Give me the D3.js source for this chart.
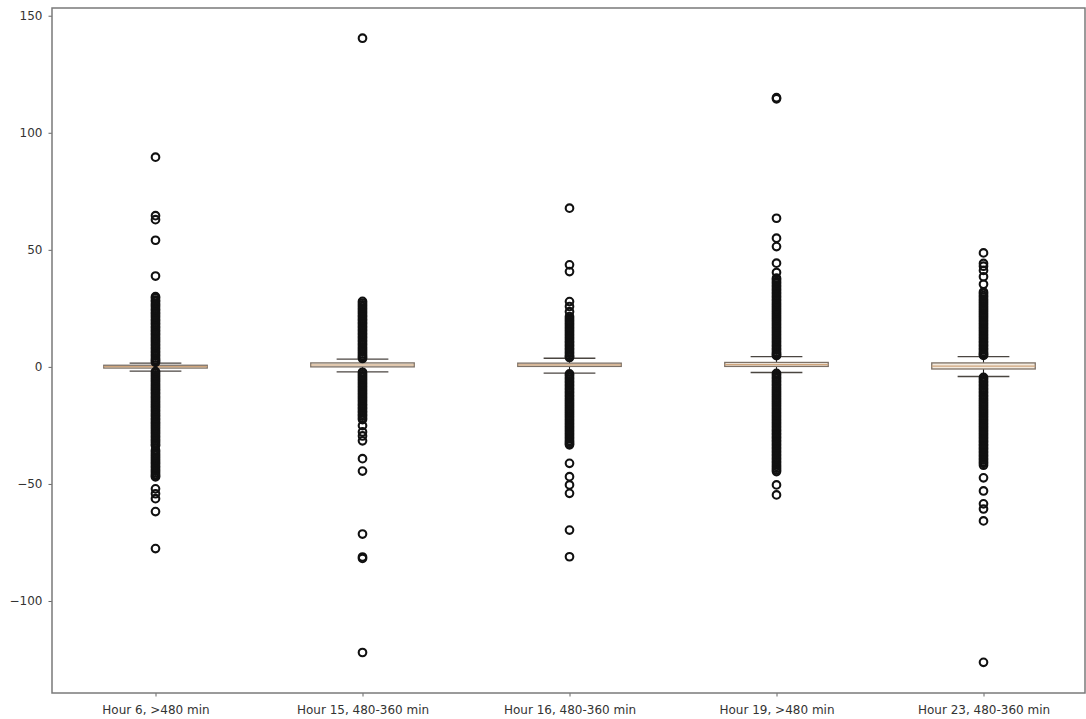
<!DOCTYPE html>
<html>
<head>
<meta charset="utf-8">
<script src="https://cdn.jsdelivr.net/npm/d3@7"></script>
<style>
  html, body { margin: 0; padding: 0; background: #fff; }
  svg { display: block; }
</style>
</head>
<body>
<svg id="chart" width="1086" height="719"></svg>
<script>
// ---- data ----
const categories = ["Hour 6, >480 min", "Hour 15, 480-360 min", "Hour 16, 480-360 min", "Hour 19, >480 min", "Hour 23, 480-360 min"];
const q1Values      = [-0.5, 0.0, 0.2, 0.2, -0.9];
const medianValues  = [0.1, 0.8, 0.9, 1.0, 0.3];
const q3Values      = [0.7, 1.7, 1.6, 1.9, 1.7];
const whiskerLow    = [-1.8, -2.1, -2.7, -2.4, -4.1];
const whiskerHigh   = [1.6, 3.3, 3.7, 4.4, 4.4];
const yTicks = [-100, -50, 0, 50, 100, 150];

const fliersHour6 = [89.6, 64.6, 62.9, 54.1, 38.8,
  30.0, 29.4, 28.5, 27.9, 27.0, 26.3, 25.6, 24.7, 24.1, 23.2, 22.6, 21.8, 21.1, 20.2, 19.6, 18.8, 18.1, 17.2, 16.6, 15.8, 15.1, 14.3, 13.6, 12.8, 12.0, 11.3, 10.6, 9.8, 9.1, 8.3, 7.6, 6.8, 6.1, 5.3, 4.6, 3.8, 3.1, 2.5, 1.9,
  -2.0, -2.7, -3.5, -4.2, -5.0, -5.7, -6.4, -7.2, -7.9, -8.7, -9.4, -10.1, -10.9, -11.6, -12.4, -13.1, -13.8, -14.6, -15.3, -16.1, -16.8, -17.5, -18.3, -19.0, -19.8, -20.5, -21.2, -22.0, -22.7, -23.5, -24.2, -24.9, -25.7, -26.4, -27.2, -27.9, -28.6, -29.4, -30.1, -30.9, -31.6, -32.3, -33.1, -33.7, -35.6, -36.3, -37.1, -37.8, -38.6, -39.3, -40.1, -40.8, -41.5, -42.3, -43.0, -43.8, -44.5, -45.2, -46.0, -46.6, -47.0,
  -52.1, -54.2, -56.3, -61.8, -77.6];

const fliersHour15 = [140.4,
  28.0, 27.3, 26.5, 25.8, 25.0, 24.3, 23.5, 22.8, 22.0, 21.3, 20.5, 19.8, 19.0, 18.3, 17.5, 16.8, 16.0, 15.3, 14.5, 13.8, 13.0, 12.3, 11.5, 10.8, 10.0, 9.3, 8.5, 7.8, 7.0, 6.3, 5.5, 4.8, 4.1, 3.6,
  -2.3, -3.0, -3.8, -4.5, -5.3, -6.0, -6.8, -7.5, -8.3, -9.0, -9.8, -10.5, -11.3, -12.0, -12.8, -13.5, -14.3, -15.0, -15.8, -16.5, -17.3, -18.0, -18.8, -19.5, -20.3, -21.0, -21.8, -22.5,
  -25.1, -27.8, -29.5, -31.6, -39.2, -44.5, -71.4, -81.2, -81.8, -122.0];

const fliersHour16 = [67.8, 43.6, 40.7, 27.9, 25.8, 23.6,
  21.5, 20.8, 20.0, 19.3, 18.5, 17.8, 17.0, 16.3, 15.5, 14.8, 14.0, 13.3, 12.5, 11.8, 11.0, 10.3, 9.5, 8.8, 8.0, 7.3, 6.5, 5.8, 5.0, 4.4, 4.0,
  -3.0, -3.7, -4.5, -5.2, -6.0, -6.7, -7.5, -8.2, -9.0, -9.7, -10.5, -11.2, -12.0, -12.7, -13.5, -14.2, -15.0, -15.7, -16.5, -17.2, -18.0, -18.7, -19.5, -20.2, -21.0, -21.7, -22.5, -23.2, -24.0, -24.7, -25.5, -26.2, -27.0, -27.7, -28.5, -29.2, -30.0, -30.7, -31.5, -32.2, -32.8, -33.3,
  -41.2, -46.9, -50.4, -54.0, -69.7, -81.1];

const fliersHour19 = [115.0, 114.5, 63.5, 55.0, 51.4, 44.3, 40.3,
  37.9, 37.2, 36.4, 35.7, 34.9, 34.2, 33.4, 32.7, 31.9, 31.2, 30.4, 29.7, 28.9, 28.2, 27.4, 26.7, 25.9, 25.2, 24.4, 23.7, 22.9, 22.2, 21.4, 20.7, 19.9, 19.2, 18.4, 17.7, 16.9, 16.2, 15.4, 14.7, 13.9, 13.2, 12.4, 11.7, 10.9, 10.2, 9.4, 8.7, 7.9, 7.2, 6.4, 5.7, 5.2, 4.8,
  -2.8, -3.5, -4.3, -5.0, -5.8, -6.5, -7.3, -8.0, -8.8, -9.5, -10.3, -11.0, -11.8, -12.5, -13.3, -14.0, -14.8, -15.5, -16.3, -17.0, -17.8, -18.5, -19.3, -20.0, -20.8, -21.5, -22.3, -23.0, -23.8, -24.5, -25.3, -26.0, -26.8, -27.5, -28.3, -29.0, -29.8, -30.5, -31.3, -32.0, -32.8, -33.5, -34.3, -35.0, -35.8, -36.5, -37.3, -38.0, -38.8, -39.5, -40.3, -41.0, -41.8, -42.5, -43.3, -44.0, -44.7,
  -50.4, -54.7];

const fliersHour23 = [48.7, 44.2, 43.0, 41.2, 38.5, 35.3,
  32.0, 31.3, 30.5, 29.8, 29.0, 28.3, 27.5, 26.8, 26.0, 25.3, 24.5, 23.8, 23.0, 22.3, 21.5, 20.8, 20.0, 19.3, 18.5, 17.8, 17.0, 16.3, 15.5, 14.8, 14.0, 13.3, 12.5, 11.8, 11.0, 10.3, 9.5, 8.8, 8.0, 7.3, 6.5, 5.8, 5.3, 4.9,
  -4.5, -5.2, -6.0, -6.7, -7.5, -8.2, -9.0, -9.7, -10.5, -11.2, -12.0, -12.7, -13.5, -14.2, -15.0, -15.7, -16.5, -17.2, -18.0, -18.7, -19.5, -20.2, -21.0, -21.7, -22.5, -23.2, -24.0, -24.7, -25.5, -26.2, -27.0, -27.7, -28.5, -29.2, -30.0, -30.7, -31.5, -32.2, -33.0, -33.7, -34.5, -35.2, -36.0, -36.7, -37.5, -38.2, -39.0, -39.7, -40.5, -41.2, -42.0,
  -47.4, -53.0, -58.5, -60.7, -65.8, -126.2];

const flierSets = [fliersHour6, fliersHour15, fliersHour16, fliersHour19, fliersHour23];

// ---- layout ----
const plot = { left: 52, right: 1087, top: 8, bottom: 693 };
const svg = d3.select("#chart");

const x = d3.scaleLinear().domain([0.5, 5.5]).range([plot.left, plot.right]);
const y = d3.scaleLinear().domain([-139.3, 153.3]).range([plot.bottom, plot.top]);

const boxHalf = (x(1.25) - x(1));   // box width 0.5
const capHalf = boxHalf / 2;

const data = categories.map((c, i) => ({
  pos: i + 1, name: c,
  q1: q1Values[i], med: medianValues[i], q3: q3Values[i],
  lo: whiskerLow[i], hi: whiskerHigh[i], fliers: flierSets[i]
}));

const font = "DejaVu Sans, sans-serif";
const g = svg.append("g");

// whiskers
g.selectAll("line.whisk-lo").data(data).join("line")
  .attr("x1", d => x(d.pos)).attr("x2", d => x(d.pos))
  .attr("y1", d => y(d.q1)).attr("y2", d => y(d.lo))
  .attr("stroke", "#222").attr("stroke-width", 1.1);
g.selectAll("line.whisk-hi").data(data).join("line")
  .attr("x1", d => x(d.pos)).attr("x2", d => x(d.pos))
  .attr("y1", d => y(d.q3)).attr("y2", d => y(d.hi))
  .attr("stroke", "#222").attr("stroke-width", 1.1);
// caps
["lo", "hi"].forEach(k => {
  g.selectAll("line.cap-" + k).data(data).join("line")
    .attr("x1", d => x(d.pos) - capHalf).attr("x2", d => x(d.pos) + capHalf)
    .attr("y1", d => y(d[k])).attr("y2", d => y(d[k]))
    .attr("stroke", "#4a4540").attr("stroke-width", 1.3);
});
// boxes
g.selectAll("rect.box").data(data).join("rect")
  .attr("x", d => x(d.pos) - boxHalf).attr("width", 2 * boxHalf)
  .attr("y", d => y(d.q3)).attr("height", d => Math.max(0.5, y(d.q1) - y(d.q3)))
  .attr("fill", "#f3ebe0").attr("stroke", "#7d7166").attr("stroke-width", 1.3);
// medians
g.selectAll("line.median").data(data).join("line")
  .attr("x1", d => x(d.pos) - boxHalf).attr("x2", d => x(d.pos) + boxHalf)
  .attr("y1", d => y(d.med)).attr("y2", d => y(d.med))
  .attr("stroke", "#cfa57c").attr("stroke-width", 1.2);

// fliers
const flierPts = data.flatMap(d => d.fliers.map(v => ({ pos: d.pos, v })));
g.selectAll("circle.flier").data(flierPts).join("circle")
  .attr("cx", d => x(d.pos)).attr("cy", d => y(d.v)).attr("r", 3.8)
  .attr("fill", "none").attr("stroke", "#111").attr("stroke-width", 2.1);

// axes
const yAxis = d3.axisLeft(y).tickValues(yTicks).tickSize(3.5).tickPadding(6)
  .tickFormat(d => d < 0 ? "\u2212" + Math.abs(d) : String(d));
const ya = svg.append("g").attr("transform", `translate(${plot.left},0)`).call(yAxis);
ya.select(".domain").remove();
ya.selectAll("text").attr("font-family", font).attr("font-size", 12).attr("fill", "#333");
ya.selectAll("line").attr("stroke", "#666");

const xAxis = d3.axisBottom(x).tickValues(data.map(d => d.pos)).tickSize(3.5).tickPadding(9)
  .tickFormat(p => categories[p - 1]);
const xa = svg.append("g").attr("transform", `translate(0,${plot.bottom})`).call(xAxis);
xa.select(".domain").remove();
xa.selectAll("text").attr("font-family", font).attr("font-size", 12).attr("fill", "#333");
xa.selectAll("line").attr("stroke", "#666");

// spines
svg.append("rect")
  .attr("x", plot.left).attr("y", plot.top)
  .attr("width", plot.right - plot.left - 2).attr("height", plot.bottom - plot.top)
  .attr("fill", "none").attr("stroke", "#7a7a7a").attr("stroke-width", 1.5);
</script>
</body>
</html>
